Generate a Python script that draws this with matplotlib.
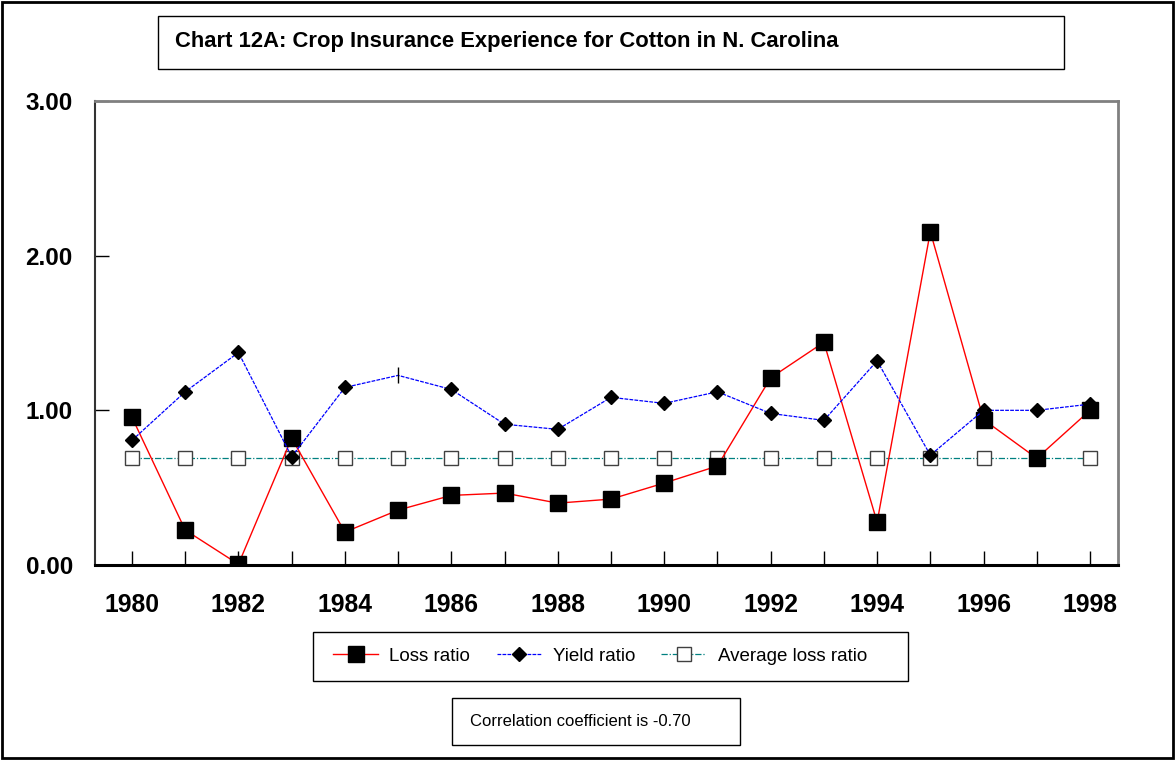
import matplotlib
matplotlib.use("Agg")
import matplotlib.pyplot as plt
from matplotlib.patches import Rectangle

plt.rcParams["font.family"] = ["Liberation Sans", "DejaVu Sans"]

years = list(range(1980, 1999))
loss_ratio = [0.955, 0.226, 0.005, 0.82, 0.213, 0.355, 0.45, 0.465, 0.40, 0.426,
              0.53, 0.64, 1.21, 1.44, 0.277, 2.155, 0.94, 0.69, 1.00]
yield_ratio = [0.806, 1.12, 1.374, 0.70, 1.148, 1.226, 1.135, 0.91, 0.877, 1.084,
               1.045, 1.12, 0.98, 0.935, 1.32, 0.71, 1.00, 1.00, 1.04]
avg_loss_ratio = [0.69] * len(years)
correlation = -0.70

W, H = 1176, 761
fig = plt.figure(figsize=(W / 100, H / 100), dpi=100)


def fx(px):
    return px / W


def fy(py):
    return 1 - py / H


def box(x0, y0, x1, y1, **kw):
    r = Rectangle((fx(x0), fy(y1)), fx(x1) - fx(x0), fy(y0) - fy(y1),
                  transform=fig.transFigure, fill=False, **kw)
    fig.patches.append(r)


# outer frame, title box, legend box, note box
box(2, 2, 1173, 758, edgecolor="black", linewidth=2)
box(158, 16, 1064, 69, edgecolor="black", linewidth=1)
box(313, 632, 908, 681, edgecolor="black", linewidth=1)
box(452, 698, 740, 745, edgecolor="black", linewidth=1)

fig.text(fx(175), fy(42), "Chart 12A: Crop Insurance Experience for Cotton in N. Carolina",
         fontsize=15.8, fontweight="bold", ha="left", va="center")
fig.text(fx(470), fy(721), f"Correlation coefficient is {correlation:.2f}",
         fontsize=12, ha="left", va="center")

ax = fig.add_axes([fx(95), fy(565), fx(1118) - fx(95), fy(101) - fy(565)])

ax.plot(years, avg_loss_ratio, color="#008080", lw=0.9, ls=(0, (5, 1.5, 1, 1.5)),
        marker="s", ms=10, mfc="white", mec="#404040", mew=1.0,
        label="Average loss ratio", zorder=2)
ax.plot(years, loss_ratio, color="red", lw=1.0, marker="s", ms=11,
        mfc="black", mec="black", label="Loss ratio", zorder=3)
skip = years.index(1985)
ax.plot(years, yield_ratio, color="blue", lw=0.9, ls=(0, (3, 1)),
        marker="D", ms=7.5, mfc="black", mec="black",
        markevery=[i for i in range(len(years)) if i != skip],
        label="Yield ratio", zorder=4)
ax.plot([years[skip]], [yield_ratio[skip]], ls="none", marker="|", ms=12,
        mec="black", mew=1.0, zorder=4)

ax.set_xlim(1979.305, 1998.526)
ax.set_ylim(0, 3)
ax.set_xticks(years)
ax.set_xticklabels([str(y) if y % 2 == 0 else "" for y in years])
ax.set_yticks([0, 1, 2, 3])
ax.set_yticklabels([f"{v:.2f}" for v in [0, 1, 2, 3]])
ax.tick_params(axis="x", direction="in", length=10, width=1, pad=20.5,
               labelsize=17.8)
ax.tick_params(axis="y", direction="in", length=10, width=1, pad=16,
               labelsize=17.5)
for lab in ax.get_xticklabels() + ax.get_yticklabels():
    lab.set_fontweight("bold")

ax.spines["left"].set_color("#333333")
ax.spines["left"].set_linewidth(1.5)
ax.spines["bottom"].set_color("black")
ax.spines["bottom"].set_linewidth(2.2)
ax.spines["top"].set_color("#808080")
ax.spines["top"].set_linewidth(2)
ax.spines["right"].set_color("#808080")
ax.spines["right"].set_linewidth(2)

handles, labels = ax.get_legend_handles_labels()
order = [1, 2, 0]
fig.legend([handles[i] for i in order], [labels[i] for i in order],
           loc="center", bbox_to_anchor=(fx(600), fy(656)), ncol=3,
           frameon=False, fontsize=13.5, handlelength=2.4, handletextpad=0.6,
           columnspacing=1.4)

fig.savefig("out.png", dpi=100)
